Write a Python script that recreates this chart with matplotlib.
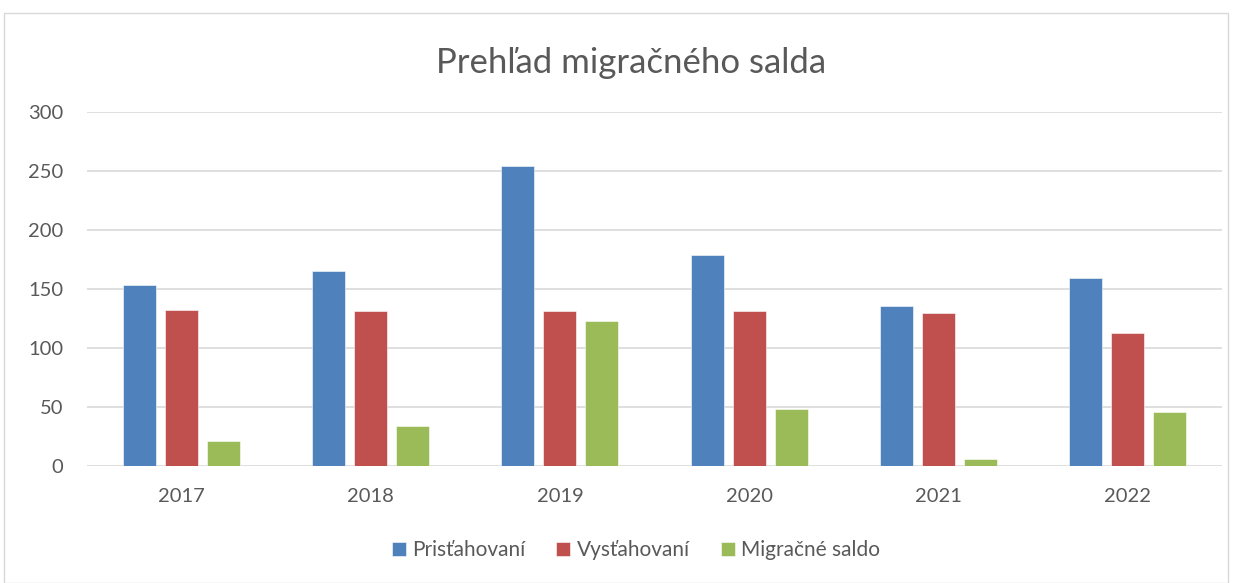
import matplotlib.pyplot as plt
import numpy as np
from matplotlib.patches import Rectangle

years = ["2017", "2018", "2019", "2020", "2021", "2022"]
prist = [153, 165, 254, 179, 136, 159]
vyst = [132, 131, 131, 131, 130, 113]
saldo = [21, 34, 123, 48, 6, 46]

labels = ["Prisťahovaní", "Vysťahovaní", "Migračné saldo"]
colors = ["#4F81BD", "#C0504D", "#9BBB59"]
yticks = [0, 50, 100, 150, 200, 250, 300]

plt.rcParams['font.family'] = ['Lato', 'DejaVu Sans']
txt = "#595959"

fig = plt.figure(figsize=(12.38, 5.83), dpi=100)
W, H = 1238, 583
ax = fig.add_axes([87 / W, 1 - 466 / H, (1222 - 87) / W, (466 - 112) / H])

x = np.arange(len(years))
width = 0.174
pitch = 0.222
for i, (vals, lab, c) in enumerate(zip([prist, vyst, saldo], labels, colors)):
    ax.bar(x + (i - 1) * pitch, vals, width, color=c, label=lab,
           edgecolor="white", linewidth=0.4, zorder=3)

ax.set_xlim(-0.5, 5.5)
ax.set_ylim(0, 300)
ax.set_yticks(yticks)
ax.set_xticks(x)
ax.set_xticklabels(years)
ax.grid(axis="y", color="#D9D9D9", linewidth=1.2, zorder=0)
for s in ax.spines.values():
    s.set_visible(False)
ax.tick_params(length=0, labelsize=14.5, colors=txt)
ax.tick_params(axis="y", pad=17)
ax.tick_params(axis="x", pad=16)

fig.text(631 / W, 1 - 63 / H, "Prehľad migračného salda", ha="center", va="center",
         fontsize=25, color=txt)

fig.legend(loc="center", bbox_to_anchor=(636 / W, 1 - 550 / H), ncol=3, frameon=False,
           fontsize=15, labelcolor=txt, handlelength=0.67, handleheight=0.67,
           handletextpad=0.3, columnspacing=1.5)

fig.patches.append(Rectangle((4 / W, 0), (1228 - 4) / W, 1 - 13 / H, transform=fig.transFigure,
                             fill=False, edgecolor="#D9D9D9", linewidth=1))

fig.savefig("out.png", dpi=100)
